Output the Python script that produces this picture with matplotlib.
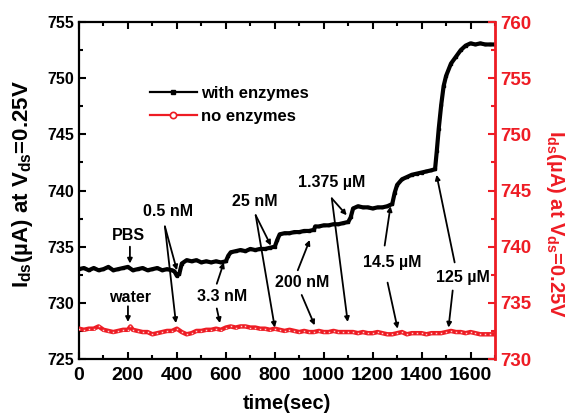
import matplotlib
matplotlib.use("Agg")
import matplotlib.pyplot as plt
from matplotlib.lines import Line2D
from matplotlib.ticker import MultipleLocator

plt.rcParams['font.family'] = ['Liberation Sans', 'DejaVu Sans']
plt.rcParams['font.weight'] = 'bold'
plt.rcParams['mathtext.fontset'] = 'custom'
plt.rcParams['mathtext.rm'] = 'Liberation Sans:bold'
plt.rcParams['mathtext.it'] = 'Liberation Sans:bold'
plt.rcParams['mathtext.bf'] = 'Liberation Sans:bold'

# with enzymes (left axis, uA)
t_enz = [0, 20, 40, 60, 80, 100, 120, 140, 160, 180, 200, 220, 240, 260, 280,
         300, 320, 340, 360, 380, 390, 400, 410, 420, 440, 460, 480, 500, 520,
         540, 560, 580, 600, 610, 620, 640, 660, 680, 700, 720, 740, 760, 780,
         800, 810, 820, 840, 860, 880, 900, 920, 940, 960, 965, 980, 1000, 1020,
         1040, 1060, 1080, 1100, 1110, 1120, 1140, 1160, 1180, 1200, 1220, 1240,
         1260, 1280, 1290, 1300, 1320, 1340, 1360, 1380, 1400, 1420, 1440, 1455,
         1462, 1470, 1480, 1490, 1500, 1520, 1540, 1560, 1580, 1600, 1620, 1640,
         1660, 1680, 1700]
i_enz = [733.0, 733.1, 732.9, 733.1, 732.9, 733.0, 733.2, 732.9, 733.0, 733.1,
         733.2, 732.9, 733.0, 733.1, 732.9, 733.0, 733.1, 732.9, 733.0, 732.9,
         732.8, 732.4, 732.6, 733.5, 733.8, 733.7, 733.8, 733.6, 733.7, 733.6,
         733.7, 733.6, 733.7, 734.2, 734.5, 734.6, 734.7, 734.6, 734.8, 734.7,
         734.8, 734.8, 734.9, 735.0, 735.6, 736.1, 736.2, 736.2, 736.3, 736.3,
         736.4, 736.4, 736.5, 736.8, 736.8, 736.9, 736.9, 737.0, 737.0, 737.1,
         737.2, 737.6, 738.4, 738.6, 738.5, 738.5, 738.4, 738.5, 738.5, 738.6,
         738.8, 739.8, 740.5, 741.0, 741.2, 741.4, 741.5, 741.6, 741.7, 741.8,
         741.9, 743.5, 745.5, 747.6, 749.3, 750.2, 751.3, 751.9, 752.5, 752.9,
         753.1, 753.0, 753.1, 753.0, 753.0, 753.0]

# no enzymes (right axis, uA)
t_no = [0, 20, 40, 60, 80, 100, 120, 140, 160, 180, 200, 210, 220, 240, 260,
        280, 300, 320, 340, 360, 380, 400, 420, 440, 460, 480, 500, 520, 540,
        560, 580, 600, 620, 640, 660, 680, 700, 720, 740, 760, 780, 800, 820,
        840, 860, 880, 900, 920, 940, 960, 980, 1000, 1020, 1040, 1060, 1080,
        1100, 1120, 1140, 1160, 1180, 1200, 1220, 1240, 1260, 1280, 1300, 1320,
        1340, 1360, 1380, 1400, 1420, 1440, 1460, 1480, 1500, 1520, 1540, 1560,
        1580, 1600, 1620, 1640, 1660, 1680, 1700]
i_no = [732.7, 732.6, 732.7, 732.7, 732.9, 732.6, 732.5, 732.4, 732.5, 732.6,
        732.6, 732.9, 732.6, 732.5, 732.4, 732.4, 732.2, 732.3, 732.4, 732.5,
        732.5, 732.7, 732.4, 732.2, 732.3, 732.5, 732.5, 732.6, 732.6, 732.7,
        732.6, 732.8, 732.9, 732.8, 732.9, 732.9, 732.8, 732.8, 732.7, 732.7,
        732.6, 732.7, 732.6, 732.5, 732.6, 732.5, 732.4, 732.5, 732.4, 732.4,
        732.5, 732.4, 732.4, 732.5, 732.4, 732.4, 732.4, 732.4, 732.3, 732.4,
        732.3, 732.3, 732.4, 732.3, 732.2, 732.2, 732.3, 732.4, 732.2, 732.3,
        732.3, 732.3, 732.2, 732.3, 732.3, 732.3, 732.4, 732.5, 732.4, 732.4,
        732.3, 732.4, 732.3, 732.2, 732.2, 732.2, 732.2]

# labels: (text, x, y) and arrows: (x_tail, y_tail, x_head, y_head), left-axis data coords
labels = [("PBS", 200, 736.0), ("water", 208, 730.5), ("0.5 nM", 363, 738.1),
          ("3.3 nM", 584, 730.6), ("25 nM", 718, 739.0), ("200 nM", 914, 731.8),
          ("1.375 µM", 1033, 740.75), ("14.5 µM", 1282, 733.6),
          ("125 µM", 1567, 732.3)]
arrows = [(208, 735.0, 208, 733.5), (200, 729.7, 200, 728.3),
          (351, 736.8, 400, 732.9), (351, 736.8, 396, 728.2),
          (563, 731.7, 592, 733.6), (563, 729.5, 576, 728.2),
          (722, 737.8, 784, 735.1), (722, 737.8, 800, 727.8),
          (894, 732.9, 943, 735.6), (910, 730.7, 963, 728.0),
          (1033, 739.3, 1094, 737.8), (1033, 739.3, 1098, 728.3),
          (1249, 735.1, 1273, 738.6), (1261, 731.8, 1302, 727.7),
          (1535, 733.6, 1461, 741.4), (1527, 731.1, 1510, 727.8)]

RED = '#ee1c24'

fig = plt.figure(figsize=(5.73, 4.2), dpi=100)
ax = fig.add_axes([0.1379, 0.1452, 0.726, 0.8024])
ax2 = ax.twinx()

ax.plot(t_enz, i_enz, '-s', color='black', lw=3.0, ms=1.8)
ax2.plot(t_no, i_no, '-o', color=RED, lw=3.2, ms=1.6,
         mfc='#ffd0d0', mec=RED, mew=0.4)

ax.set_xlim(0, 1700)
ax.set_ylim(725, 755)
ax2.set_ylim(730, 760)

ax.xaxis.set_major_locator(MultipleLocator(200))
ax.xaxis.set_minor_locator(MultipleLocator(100))
ax.yaxis.set_major_locator(MultipleLocator(5))
ax.yaxis.set_minor_locator(MultipleLocator(2.5))
ax2.yaxis.set_major_locator(MultipleLocator(5))
ax2.yaxis.set_minor_locator(MultipleLocator(2.5))

ax.tick_params(axis='x', which='both', direction='in', top=True, width=1.5)
ax.tick_params(axis='x', which='major', length=5, labelsize=14, pad=6)
ax.tick_params(axis='x', which='minor', length=3)
ax.tick_params(axis='y', which='both', direction='in', right=False, width=1.5)
ax.tick_params(axis='y', which='major', length=5, labelsize=11.5)
ax.tick_params(axis='y', which='minor', length=3)
ax2.tick_params(axis='y', which='both', direction='in', colors=RED, width=1.5)
ax2.tick_params(axis='y', which='major', length=5, labelsize=13.5)
ax2.tick_params(axis='y', which='minor', length=3)

for s in ['left', 'bottom', 'top']:
    ax.spines[s].set_linewidth(1.6)
ax2.spines['right'].set_color(RED)
ax2.spines['right'].set_linewidth(2)
for s in ['left', 'bottom', 'top']:
    ax2.spines[s].set_visible(False)

ax.set_xlabel('time(sec)', fontsize=14.5, fontweight='bold', labelpad=7)
ax.set_ylabel(r'I$_{ds}$(µA) at V$_{ds}$=0.25V', fontsize=16, fontweight='bold',
              va='center')
ax.yaxis.set_label_coords(-0.135, 0.52)
ax2.set_ylabel(r'I$_{ds}$(µA) at V$_{ds}$=0.25V', fontsize=14.5, fontweight='bold',
               color=RED, rotation=270, va='center', ha='center')
ax2.yaxis.set_label_coords(1.145, 0.40)

for txt, x, y in labels:
    ax2.text(x, y + 5, txt, fontsize=11.5, fontweight='bold', ha='center', va='center')
for x0, y0, x1, y1 in arrows:
    ax2.annotate('', xy=(x1, y1 + 5), xytext=(x0, y0 + 5),
                 arrowprops=dict(arrowstyle='-|>', lw=1.3, color='black',
                                 mutation_scale=7, shrinkA=0, shrinkB=0))

handles = [Line2D([], [], color='black', lw=1.6, marker='s', ms=2.5),
           Line2D([], [], color=RED, lw=1.6, marker='o', ms=4.5, mfc='white',
                  mec=RED, mew=1.2)]
ax2.legend(handles, ['with enzymes', 'no enzymes'], loc='upper left',
           bbox_to_anchor=(0.171, 0.81), frameon=False, fontsize=12,
           handlelength=2.8, handletextpad=0.25, borderpad=0, borderaxespad=0,
           labelspacing=0.45)

fig.savefig('out.png', dpi=100)
